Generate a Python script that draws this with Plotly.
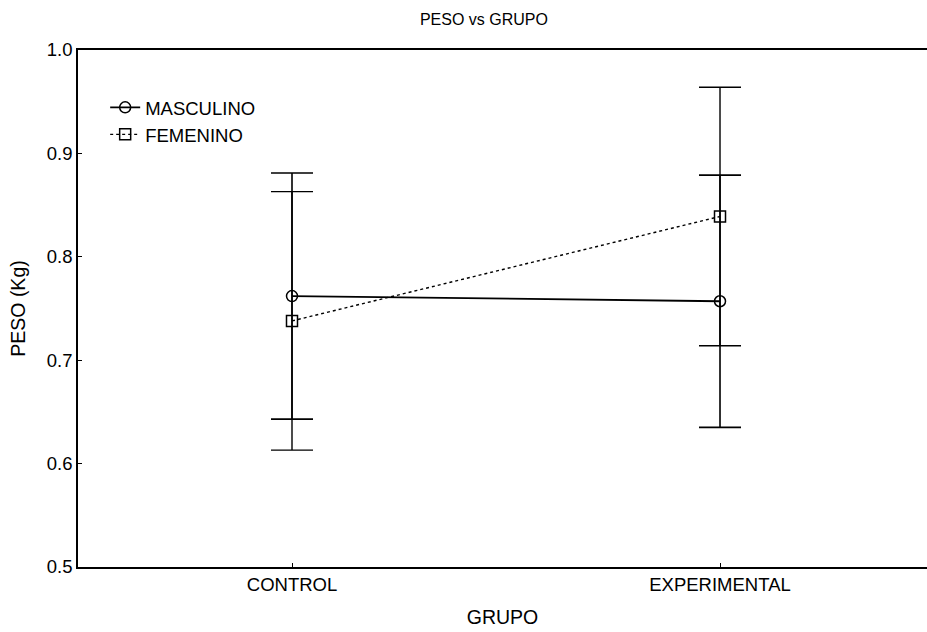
import plotly.graph_objects as go

# Group means and error half-widths for body weight (kg)
grupos = ["CONTROL", "EXPERIMENTAL"]
masc_media = [0.762, 0.757]
masc_error = [0.119, 0.122]
fem_media = [0.738, 0.839]
fem_error = [0.125, 0.125]

FONT = "Liberation Sans, Arial, sans-serif"

fig = go.Figure()

fig.add_trace(go.Scatter(
    x=grupos, y=masc_media, name="MASCULINO", mode="lines+markers",
    line=dict(color="black", width=1.8),
    marker=dict(symbol="circle-open", size=11, color="black", line=dict(width=1.5)),
    error_y=dict(type="data", array=masc_error, visible=True,
                 color="black", thickness=1.6, width=21),
))

fig.add_trace(go.Scatter(
    x=grupos, y=fem_media, name="FEMENINO", mode="lines+markers",
    line=dict(color="black", width=1.4, dash="dot"),
    marker=dict(symbol="square-open", size=11, color="black", line=dict(width=1.5)),
    error_y=dict(type="data", array=fem_error, visible=True,
                 color="black", thickness=1.4, width=21),
))

fig.update_layout(
    width=927, height=632,
    margin=dict(l=78, r=0, t=50, b=65),
    paper_bgcolor="white", plot_bgcolor="white",
    font=dict(family=FONT, size=18, color="black"),
    title=dict(text="PESO vs GRUPO", x=0.522, xanchor="center", y=0.97, yanchor="middle",
               font=dict(family=FONT, size=16, color="black")),
    showlegend=True,
    legend=dict(x=0.032, y=0.925, xanchor="left", yanchor="top",
                bgcolor="rgba(0,0,0,0)", font=dict(size=18.5),
                tracegroupgap=0, itemwidth=30),
)

fig.update_xaxes(
    type="category", range=[-0.5, 1.4836],
    showgrid=False, zeroline=False,
    showline=True, linecolor="black", linewidth=1.5, mirror=True,
    ticks="inside", ticklen=4, tickcolor="black",
    title=dict(text="GRUPO", standoff=16, font=dict(size=19.5)),
    tickfont=dict(size=18.5),
)

fig.update_yaxes(
    range=[0.5, 1.0], tickvals=[0.5, 0.6, 0.7, 0.8, 0.9, 1.0],
    ticktext=["0.5", "0.6", "0.7", "0.8", "0.9", "1.0"],
    showgrid=False, zeroline=False,
    showline=True, linecolor="black", linewidth=1.5, mirror=False,
    ticks="inside", ticklen=4, tickcolor="black",
    title=dict(text="PESO (Kg)", standoff=16, font=dict(size=19.5)),
    tickfont=dict(size=18.5),
)

fig.write_html("out.html")
